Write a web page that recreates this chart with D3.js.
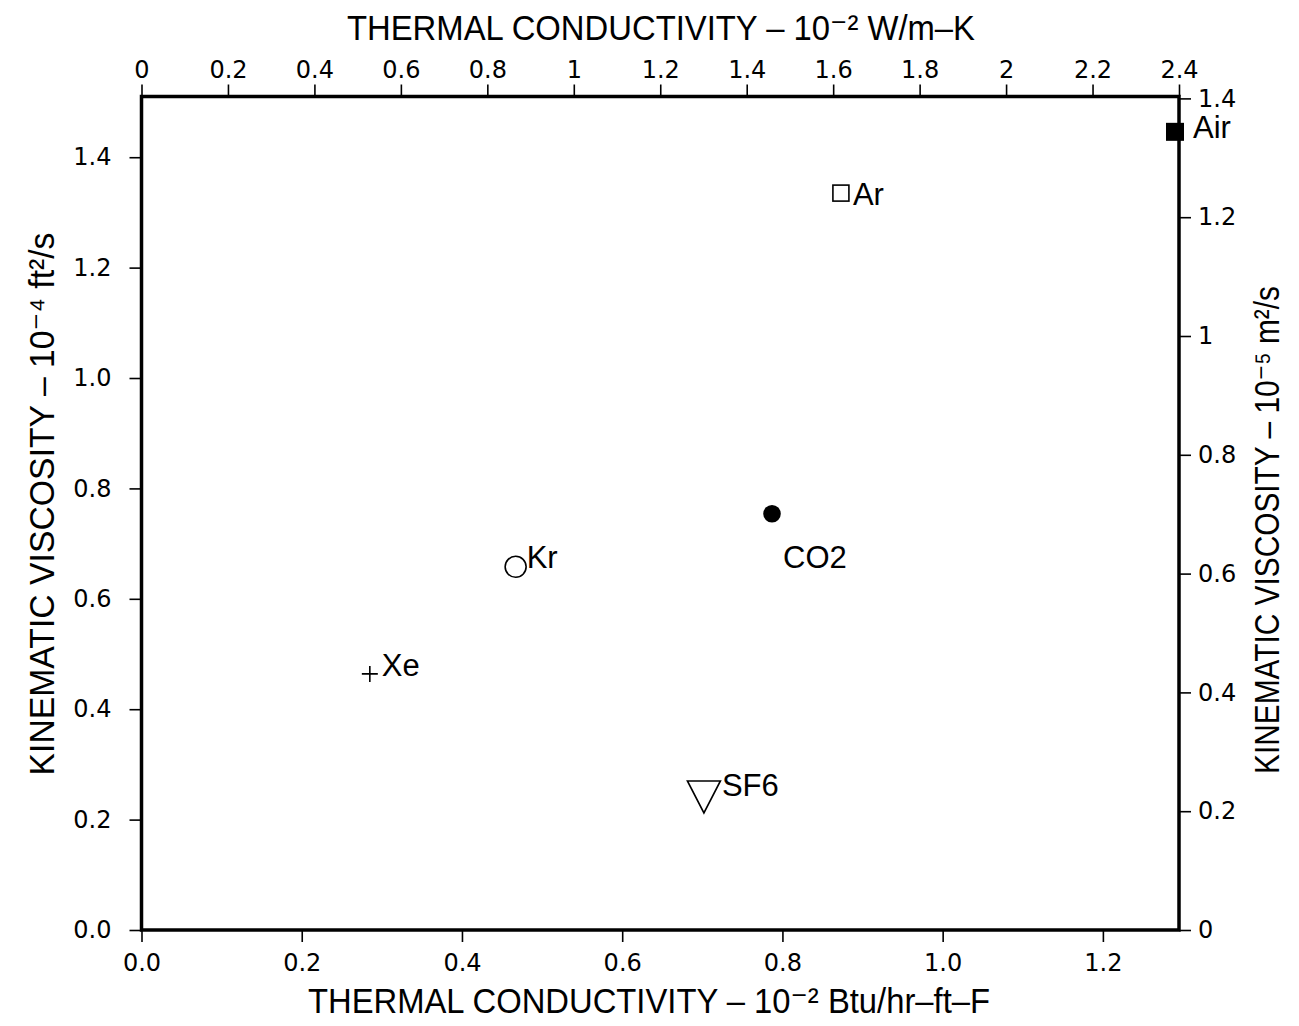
<!DOCTYPE html>
<html><head><meta charset="utf-8">
<script src="https://cdn.jsdelivr.net/npm/d3@7"></script>
<style>body{margin:0;background:#fff}svg{display:block}</style>
</head><body>
<svg id="chart" width="1299" height="1026"></svg>
<script>
// ---- data ----
const gases = ["Air", "Ar", "CO2", "Kr", "Xe", "SF6"];
const conductivityBtu = [1.29, 0.873, 0.787, 0.467, 0.285, 0.702];   // 10^-2 Btu/hr-ft-F
const viscosityFt2 = [1.446, 1.335, 0.754, 0.658, 0.464, 0.241];     // 10^-4 ft^2/s
const markerTypes = ["filledSquare", "openSquare", "filledCircle", "openCircle", "plus", "triangleDown"];
const bottomTicks = [0, 0.2, 0.4, 0.6, 0.8, 1.0, 1.2];
const topTicks = [0, 0.2, 0.4, 0.6, 0.8, 1, 1.2, 1.4, 1.6, 1.8, 2, 2.2, 2.4];
const leftTicks = [0, 0.2, 0.4, 0.6, 0.8, 1.0, 1.2, 1.4];
const rightTicks = [0, 0.2, 0.4, 0.6, 0.8, 1, 1.2, 1.4];

// ---- layout ----
const L = 141.5, R = 1179, T = 96.5, B = 930;
const svg = d3.select("#chart");
const x = d3.scaleLinear().domain([0, 1.295]).range([L, R]);
const xTop = d3.scaleLinear().domain([0, 2.4]).range([L, R]);
const y = d3.scaleLinear().domain([0, 1.51]).range([B, T]);
const yRight = d3.scaleLinear().domain([0, 1.4]).range([B, B - 1.4 * 594]);

const tickFont = "'DejaVu Sans', sans-serif";
const titleFont = "'Liberation Sans', 'DejaVu Sans', Arial, sans-serif";
const labelFont = "'Liberation Sans', Arial, sans-serif";

function styleAxis(g) {
  g.select(".domain").remove();
  g.selectAll(".tick line").attr("stroke", "#000").attr("stroke-width", 1.6);
  g.selectAll(".tick text").attr("fill", "#000").attr("font-family", tickFont).attr("font-size", 24);
}

svg.append("g").attr("transform", `translate(0,${B})`)
  .call(d3.axisBottom(x).tickValues(bottomTicks).tickFormat(d3.format(".1f")).tickSize(12).tickPadding(12))
  .call(styleAxis);
svg.append("g").attr("transform", `translate(0,${T})`)
  .call(d3.axisTop(xTop).tickValues(topTicks).tickFormat(d3.format("~g")).tickSize(12).tickPadding(7))
  .call(styleAxis);
svg.append("g").attr("transform", `translate(${L},0)`)
  .call(d3.axisLeft(y).tickValues(leftTicks).tickFormat(d3.format(".1f")).tickSize(12).tickPadding(18))
  .call(styleAxis);
svg.append("g").attr("transform", `translate(${R},0)`)
  .call(d3.axisRight(yRight).tickValues(rightTicks).tickFormat(d3.format("~g")).tickSize(12).tickPadding(7))
  .call(styleAxis);

// frame
svg.append("rect").attr("x", L).attr("y", T).attr("width", R - L).attr("height", B - T)
  .attr("fill", "none").attr("stroke", "#000").attr("stroke-width", 3.5);

// ---- titles ----
function title(str, attrs, len) {
  const t = svg.append("text").attr("font-family", titleFont).attr("font-size", 35)
    .attr("fill", "#000").attr("text-anchor", "middle")
    .attr("textLength", len).attr("lengthAdjust", "spacingAndGlyphs").text(str);
  Object.entries(attrs).forEach(([k, v]) => t.attr(k, v));
  return t;
}
title("THERMAL CONDUCTIVITY – 10⁻² W/m–K", {x: 661, y: 40}, 628);
title("THERMAL CONDUCTIVITY – 10⁻² Btu/hr–ft–F", {x: 649, y: 1013}, 682);
title("KINEMATIC VISCOSITY – 10⁻⁴ ft²/s", {transform: "translate(54,504) rotate(-90)"}, 543);
title("KINEMATIC VISCOSITY – 10⁻⁵ m²/s", {transform: "translate(1279,530) rotate(-90)"}, 488);

// ---- points ----
const labelOffset = {Air: [18, 6], Ar: [12, 12], CO2: [11, 54], Kr: [11, 1], Xe: [12, 2], SF6: [18, -1]};
const pts = gases.map((g, i) => ({name: g, cx: x(conductivityBtu[i]), cy: y(viscosityFt2[i]), m: markerTypes[i]}));
const pg = svg.append("g");
pts.forEach(p => {
  const g = pg.append("g").attr("transform", `translate(${p.cx},${p.cy})`);
  switch (p.m) {
    case "filledSquare": g.append("rect").attr("x", -9).attr("y", -9).attr("width", 18).attr("height", 18).attr("fill", "#000"); break;
    case "openSquare": g.append("rect").attr("x", -8).attr("y", -8).attr("width", 16).attr("height", 16).attr("fill", "none").attr("stroke", "#000").attr("stroke-width", 1.6); break;
    case "filledCircle": g.append("circle").attr("r", 8.8).attr("fill", "#000"); break;
    case "openCircle": g.append("circle").attr("r", 10.5).attr("fill", "none").attr("stroke", "#000").attr("stroke-width", 1.6); break;
    case "plus": g.append("path").attr("d", "M-8,0H8M0,-8V8").attr("stroke", "#000").attr("stroke-width", 1.6); break;
    case "triangleDown": g.append("path").attr("d", "M-16.5,-16L16.5,-16L0,16Z").attr("fill", "none").attr("stroke", "#000").attr("stroke-width", 1.6); break;
  }
  const o = labelOffset[p.name];
  pg.append("text").attr("x", p.cx + o[0]).attr("y", p.cy + o[1]).text(p.name)
    .attr("font-family", labelFont).attr("font-size", 31).attr("fill", "#000");
});
</script>
</body></html>
